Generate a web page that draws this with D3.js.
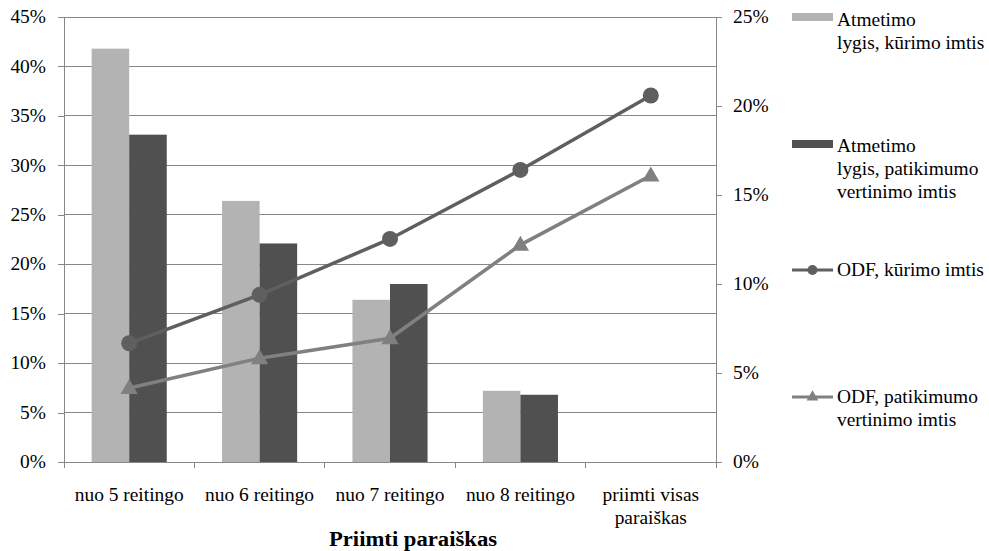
<!DOCTYPE html>
<html>
<head>
<meta charset="utf-8">
<script src="https://cdn.jsdelivr.net/npm/d3@7"></script>
<style>
  body { margin: 0; background: #fff; }
</style>
</head>
<body>
<svg id="chart" width="989" height="551" font-family="Liberation Serif"></svg>
<script>
// ---- data ----
const categories = ["nuo 5 reitingo", "nuo 6 reitingo", "nuo 7 reitingo", "nuo 8 reitingo", "priimti visas paraiškas"];
const categoryLines = [["nuo 5 reitingo"], ["nuo 6 reitingo"], ["nuo 7 reitingo"], ["nuo 8 reitingo"], ["priimti visas", "paraiškas"]];
const rejectDev = [0.418, 0.264, 0.164, 0.072, null];
const rejectVal = [0.331, 0.221, 0.180, 0.068, null];
const odfDev = [0.0667, 0.0939, 0.1253, 0.1641, 0.2059];
const odfVal = [0.0416, 0.0583, 0.0695, 0.1220, 0.1610];
const leftTicks = [0, 0.05, 0.10, 0.15, 0.20, 0.25, 0.30, 0.35, 0.40, 0.45];
const rightTicks = [0, 0.05, 0.10, 0.15, 0.20, 0.25];
const legendItems = [
  { lines: ["Atmetimo", "lygis, kūrimo imtis"], type: "bar", color: "#b3b3b3" },
  { lines: ["Atmetimo", "lygis, patikimumo", "vertinimo imtis"], type: "bar", color: "#505050" },
  { lines: ["ODF, kūrimo imtis"], type: "circle", color: "#5f5f5f" },
  { lines: ["ODF, patikimumo", "vertinimo imtis"], type: "triangle", color: "#808080" }
];
const xTitle = "Priimti paraiškas";

// ---- layout ----
const FONT = "Liberation Serif";
const TXT = "#000";
const svg = d3.select("#chart");
const L = 64, R = 716, T = 17, B = 462;
const SX = 1.08; // horizontal text stretch
const fs = 18;

const x = d3.scaleBand().domain(categories).range([L, R]).paddingInner(0).paddingOuter(0);
const yL = d3.scaleLinear().domain([0, 0.45]).range([B, T]);
const yR = d3.scaleLinear().domain([0, 0.25]).range([B, T]);
const barW = x.bandwidth() * 0.288;
const gridColor = "#878787";
const axisColor = "#878787";

// gridlines
svg.append("g").selectAll("line").data(leftTicks.filter(d => d > 0)).join("line")
  .attr("x1", L).attr("x2", R)
  .attr("y1", d => yL(d)).attr("y2", d => yL(d))
  .attr("stroke", gridColor).attr("stroke-width", 1).attr("shape-rendering", "crispEdges");

// left axis
const gL = svg.append("g").attr("transform", `translate(${L},0)`)
  .call(d3.axisLeft(yL).tickValues(leftTicks).tickFormat(d3.format(".0%")).tickSize(6).tickPadding(12));
gL.attr("font-family", FONT);
gL.select(".domain").attr("stroke", axisColor).attr("shape-rendering", "crispEdges");
gL.selectAll(".tick line").attr("stroke", axisColor).attr("shape-rendering", "crispEdges");
gL.selectAll(".tick text").attr("font-family", FONT).attr("font-size", fs).attr("fill", TXT)
  .attr("transform", `scale(${SX},1)`).attr("x", -18 / SX);

// right axis
const gR = svg.append("g").attr("transform", `translate(${R},0)`)
  .call(d3.axisRight(yR).tickValues(rightTicks).tickFormat(d3.format(".0%")).tickSize(6).tickPadding(12));
gR.attr("font-family", FONT);
gR.select(".domain").attr("stroke", axisColor).attr("shape-rendering", "crispEdges");
gR.selectAll(".tick line").attr("stroke", axisColor).attr("shape-rendering", "crispEdges");
gR.selectAll(".tick text").attr("font-family", FONT).attr("font-size", fs).attr("fill", TXT)
  .attr("transform", `scale(${SX},1)`).attr("x", 17 / SX);

// bars
const gBars = svg.append("g");
gBars.selectAll("rect.dev").data(categories.map((c, i) => ({ c, v: rejectDev[i] })).filter(d => d.v != null)).join("rect")
  .attr("class", "dev")
  .attr("x", d => x(d.c) + x.bandwidth() / 2 - barW)
  .attr("width", barW)
  .attr("y", d => yL(d.v)).attr("height", d => yL(0) - yL(d.v))
  .attr("fill", "#b3b3b3");
gBars.selectAll("rect.val").data(categories.map((c, i) => ({ c, v: rejectVal[i] })).filter(d => d.v != null)).join("rect")
  .attr("class", "val")
  .attr("x", d => x(d.c) + x.bandwidth() / 2)
  .attr("width", barW)
  .attr("y", d => yL(d.v)).attr("height", d => yL(0) - yL(d.v))
  .attr("fill", "#505050");

// bottom axis
const gB = svg.append("g").attr("transform", `translate(0,${B})`);
gB.append("line").attr("x1", L).attr("x2", R).attr("y1", 0).attr("y2", 0)
  .attr("stroke", axisColor).attr("shape-rendering", "crispEdges");
const boundaries = categories.map(c => x(c)).concat([R]);
gB.selectAll("line.tk").data(boundaries).join("line").attr("class", "tk")
  .attr("x1", d => d).attr("x2", d => d).attr("y1", 0).attr("y2", 6)
  .attr("stroke", axisColor).attr("shape-rendering", "crispEdges");

// category labels
categories.forEach((c, i) => {
  const cx = x(c) + x.bandwidth() / 2;
  categoryLines[i].forEach((ln, j) => {
    svg.append("text")
      .attr("transform", `translate(${cx},${501 + j * 23}) scale(${SX},1)`)
      .attr("text-anchor", "middle").attr("font-family", FONT).attr("font-size", fs).attr("fill", TXT)
      .text(ln);
  });
});

// x title
svg.append("text")
  .attr("transform", `translate(413,546) scale(${SX},1)`)
  .attr("text-anchor", "middle").attr("font-family", FONT).attr("font-size", 21).attr("font-weight", "bold").attr("fill", TXT)
  .text(xTitle);

// lines
const lineGen = d3.line().x((d, i) => x(categories[i]) + x.bandwidth() / 2).y(d => yR(d));
svg.append("path").datum(odfVal).attr("d", lineGen)
  .attr("fill", "none").attr("stroke", "#808080").attr("stroke-width", 3.5);
svg.append("path").datum(odfDev).attr("d", lineGen)
  .attr("fill", "none").attr("stroke", "#5f5f5f").attr("stroke-width", 3.5);

const tri = d3.symbol().type(d3.symbolTriangle).size(130);
svg.append("g").selectAll("path").data(odfVal).join("path")
  .attr("d", tri)
  .attr("transform", (d, i) => `translate(${x(categories[i]) + x.bandwidth() / 2},${yR(d) + 1})`)
  .attr("fill", "#808080");
svg.append("g").selectAll("circle").data(odfDev).join("circle")
  .attr("cx", (d, i) => x(categories[i]) + x.bandwidth() / 2)
  .attr("cy", d => yR(d))
  .attr("r", 8).attr("fill", "#5f5f5f");

// legend
const legendY = [17, 144, 270, 397];
const legendTextY = [26, 152, 276, 403];
const legendTri = d3.symbol().type(d3.symbolTriangle).size(60);
legendItems.forEach((it, i) => {
  const y0 = legendY[i];
  const g = svg.append("g");
  if (it.type === "bar") {
    g.append("rect").attr("x", 792).attr("y", y0 - 4).attr("width", 41).attr("height", 8).attr("fill", it.color);
  } else {
    g.append("line").attr("x1", 792).attr("x2", 833).attr("y1", y0).attr("y2", y0)
      .attr("stroke", it.color).attr("stroke-width", 3);
    if (it.type === "circle") {
      g.append("circle").attr("cx", 812.5).attr("cy", y0).attr("r", 5).attr("fill", it.color);
    } else {
      g.append("path").attr("d", legendTri).attr("transform", `translate(812.5,${y0})`).attr("fill", it.color);
    }
  }
  it.lines.forEach((ln, j) => {
    g.append("text")
      .attr("transform", `translate(837,${legendTextY[i] + j * 23}) scale(${SX},1)`)
      .attr("font-family", FONT).attr("font-size", fs).attr("fill", TXT)
      .text(ln);
  });
});
</script>
</body>
</html>
